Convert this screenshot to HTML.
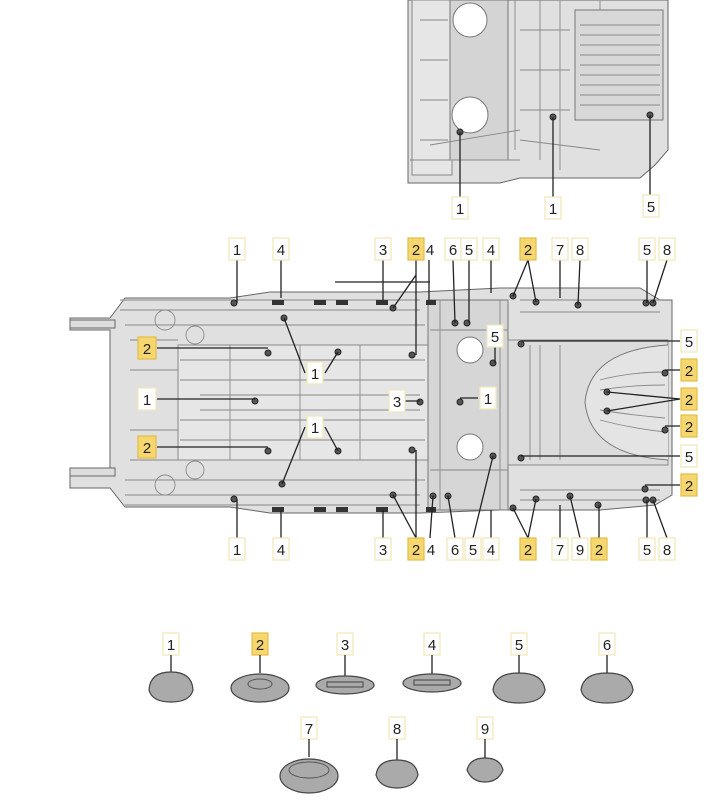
<!DOCTYPE html>
<html><head><meta charset="utf-8"><style>
html,body{margin:0;padding:0;background:#fff;}
svg{display:block;}
text{font-family:"Liberation Sans",sans-serif;font-size:15px;fill:#222;text-anchor:middle;}
.lb{fill:#fff;stroke:#f3e6b8;stroke-width:1.2;}
.ly{fill:#f6d66e;stroke:#e2bd45;stroke-width:1.2;}
.ln{stroke:#222;stroke-width:1.3;fill:none;}
.bd{fill:#e0e0e0;stroke:#666;stroke-width:1;}
.dt{stroke:#888;stroke-width:0.9;fill:none;}
.bolt{fill:#555;stroke:#222;stroke-width:1;}
.pt{fill:#aaa;stroke:#444;stroke-width:1.2;}
</style></head><body>
<svg width="720" height="801" viewBox="0 0 720 801" xmlns="http://www.w3.org/2000/svg">
<!-- top partial view -->
<path class="bd" d="M408 0 H668 V150 L655 165 L640 178 H520 L500 183 H408 Z"/>
<rect x="412" y="0" width="40" height="175" fill="#e6e6e6" stroke="#888"/>
<rect x="450" y="0" width="58" height="160" fill="#d4d4d4" stroke="#777"/>
<circle cx="470" cy="20" r="17" fill="#fff" stroke="#777"/>
<circle cx="470" cy="115" r="18" fill="#fff" stroke="#777"/>
<rect x="575" y="10" width="88" height="110" fill="#d8d8d8" stroke="#777"/>
<g class="dt">
<path d="M580 25 H660 M580 35 H660 M580 45 H660 M580 55 H660 M580 65 H660 M580 75 H660 M580 85 H660 M580 95 H660 M580 105 H660"/>
<path d="M515 0 V150 M540 0 V160 M560 0 V170 M520 140 L600 150 M410 160 H520 M430 145 L520 130 M420 20 H448 M420 60 H448 M420 100 H448 M420 140 H448 M600 0 V10 M520 30 H570 M520 70 H570 M520 110 H570"/>
</g>
<circle class="bolt" cx="460" cy="132" r="3"/><circle class="bolt" cx="553" cy="117" r="3"/><circle class="bolt" cx="650" cy="115" r="3"/>
<path class="ln" d="M460 132 V198 M553 117 V198 M650 115 V196"/>
<!-- main floor -->
<path class="bd" d="M70 318 H110 L125 298 H230 L270 292 H420 L500 288 H640 L660 300 H672 V495 L655 505 L600 510 H500 L420 513 H270 L230 507 H125 L110 488 H70 V476 H110 V330 H70 Z"/>
<rect x="70" y="320" width="45" height="8" fill="#ddd" stroke="#666"/>
<rect x="70" y="468" width="45" height="8" fill="#ddd" stroke="#666"/>
<rect x="178" y="345" width="250" height="115" fill="#e6e6e6" stroke="#888"/>
<rect x="428" y="300" width="80" height="210" fill="#d6d6d6" stroke="#777"/>
<circle cx="470" cy="350" r="13" fill="#fff" stroke="#777"/>
<circle cx="470" cy="447" r="13" fill="#fff" stroke="#777"/>
<rect x="508" y="340" width="160" height="125" fill="#dcdcdc" stroke="#888"/>
<path d="M668 345 Q590 350 585 402 Q590 455 668 460" fill="#e4e4e4" stroke="#777"/>
<g class="dt">
<path d="M120 300 H420 M120 310 H420 M125 325 H425 M125 480 H425 M125 495 H420 M125 505 H420 M130 340 H178 M130 460 H178 M130 370 H178 M130 430 H178"/>
<path d="M180 360 H425 M180 380 H425 M180 420 H425 M180 440 H425 M200 395 L420 395 M200 410 L420 410 M230 345 V460 M300 345 V460 M360 345 V460"/>
<path d="M520 300 H660 M520 312 H660 M520 490 H660 M520 500 H660 M540 345 V460 M560 345 V460 M530 345 V460 M440 300 V510 M500 300 V510 M430 330 H508 M430 470 H508"/>
<path d="M600 380 Q630 372 665 372 M600 390 Q630 385 665 385 M600 420 Q630 428 665 432 M600 410 Q630 415 665 418"/>
<circle cx="165" cy="320" r="10"/><circle cx="195" cy="335" r="9"/><circle cx="165" cy="485" r="10"/><circle cx="195" cy="470" r="9"/>
</g>
<g fill="#333"><rect x="272" y="300" width="12" height="5"/><rect x="314" y="300" width="12" height="5"/><rect x="336" y="300" width="12" height="5"/><rect x="376" y="300" width="12" height="5"/><rect x="426" y="300" width="10" height="5"/>
<rect x="272" y="507" width="12" height="5"/><rect x="314" y="507" width="12" height="5"/><rect x="336" y="507" width="12" height="5"/><rect x="376" y="507" width="12" height="5"/><rect x="426" y="507" width="10" height="5"/></g>
<g class="bolt">
<circle cx="234" cy="303" r="3"/><circle cx="268" cy="353" r="3"/><circle cx="284" cy="318" r="3"/><circle cx="338" cy="352" r="3"/><circle cx="412" cy="355" r="3"/><circle cx="393" cy="308" r="3"/>
<circle cx="255" cy="401" r="3"/><circle cx="420" cy="402" r="3"/><circle cx="460" cy="402" r="3"/><circle cx="493" cy="363" r="3"/><circle cx="521" cy="344" r="3"/><circle cx="521" cy="458" r="3"/>
<circle cx="268" cy="451" r="3"/><circle cx="282" cy="484" r="3"/><circle cx="338" cy="451" r="3"/><circle cx="412" cy="450" r="3"/><circle cx="393" cy="495" r="3"/><circle cx="234" cy="499" r="3"/>
<circle cx="665" cy="373" r="3"/><circle cx="607" cy="392" r="3"/><circle cx="607" cy="411" r="3"/><circle cx="665" cy="430" r="3"/><circle cx="645" cy="489" r="3"/>
<circle cx="455" cy="323" r="3"/><circle cx="467" cy="323" r="3"/><circle cx="513" cy="296" r="3"/><circle cx="536" cy="302" r="3"/><circle cx="578" cy="305" r="3"/><circle cx="646" cy="303" r="3"/><circle cx="653" cy="303" r="3"/>
<circle cx="433" cy="496" r="3"/><circle cx="448" cy="496" r="3"/><circle cx="493" cy="456" r="3"/><circle cx="513" cy="508" r="3"/><circle cx="536" cy="499" r="3"/><circle cx="570" cy="496" r="3"/><circle cx="598" cy="505" r="3"/><circle cx="646" cy="500" r="3"/><circle cx="653" cy="500" r="3"/>
</g>
<!-- leader lines -->
<path class="ln" d="M237 260 V303 M281 260 V298 M383 260 V300 M335 282 H430 M383 282 V290 M416 260 V355 M416 275 L393 308 M429 260 V300 M453 260 L455 323 M469 260 V323 M491 260 V293 M528 260 L513 296 M528 260 L536 302 M560 260 L560 298 M580 260 L578 305 M647 260 V303 M667 260 L653 303
M237 538 V499 M281 538 V510 M383 538 V510 M416 538 V450 M416 538 L393 495 M430 538 L433 496 M455 538 L448 496 M473 538 L493 456 M491 538 V510 M528 538 L513 508 M528 538 L536 499 M560 538 V505 M580 538 L570 496 M599 538 V505 M647 538 V500 M667 538 L653 500
M157 348 H268 M157 399 H255 M157 447 H268 M305 373 L284 318 M325 373 L338 352 M305 427 L282 484 M325 427 L338 451 M405 401 H420 M478 398 H460 M495 346 V363
M680 341 H521 M680 370 H665 M680 399 L607 392 M680 399 L607 411 M680 426 H665 M680 456 H521 M680 485 H645"/>
<g><rect class="lb" x="452" y="197" width="16" height="22"/><text x="460" y="214">1</text>
<rect class="lb" x="545" y="197" width="16" height="22"/><text x="553" y="214">1</text>
<rect class="lb" x="643" y="195" width="16" height="22"/><text x="651" y="212">5</text></g>
<g>
<rect class="lb" x="229" y="238" width="16" height="22"/><text x="237" y="255">1</text>
<rect class="lb" x="273" y="238" width="16" height="22"/><text x="281" y="255">4</text>
<rect class="lb" x="375" y="238" width="16" height="22"/><text x="383" y="255">3</text>
<rect class="ly" x="408" y="238" width="16" height="22"/><text x="416" y="255">2</text>
<text x="430" y="255">4</text>
<rect class="lb" x="445" y="238" width="16" height="22"/><text x="453" y="255">6</text>
<rect class="lb" x="461" y="238" width="16" height="22"/><text x="469" y="255">5</text>
<rect class="lb" x="483" y="238" width="16" height="22"/><text x="491" y="255">4</text>
<rect class="ly" x="520" y="238" width="16" height="22"/><text x="528" y="255">2</text>
<rect class="lb" x="552" y="238" width="16" height="22"/><text x="560" y="255">7</text>
<rect class="lb" x="572" y="238" width="16" height="22"/><text x="580" y="255">8</text>
<rect class="lb" x="639" y="238" width="16" height="22"/><text x="647" y="255">5</text>
<rect class="lb" x="659" y="238" width="16" height="22"/><text x="667" y="255">8</text>
</g>
<g>
<rect class="lb" x="229" y="538" width="16" height="22"/><text x="237" y="555">1</text>
<rect class="lb" x="273" y="538" width="16" height="22"/><text x="281" y="555">4</text>
<rect class="lb" x="375" y="538" width="16" height="22"/><text x="383" y="555">3</text>
<rect class="ly" x="408" y="538" width="16" height="22"/><text x="416" y="555">2</text>
<text x="431" y="555">4</text>
<rect class="lb" x="447" y="538" width="16" height="22"/><text x="455" y="555">6</text>
<rect class="lb" x="465" y="538" width="16" height="22"/><text x="473" y="555">5</text>
<rect class="lb" x="483" y="538" width="16" height="22"/><text x="491" y="555">4</text>
<rect class="ly" x="520" y="538" width="16" height="22"/><text x="528" y="555">2</text>
<rect class="lb" x="552" y="538" width="16" height="22"/><text x="560" y="555">7</text>
<rect class="lb" x="572" y="538" width="16" height="22"/><text x="580" y="555">9</text>
<rect class="ly" x="591" y="538" width="16" height="22"/><text x="599" y="555">2</text>
<rect class="lb" x="639" y="538" width="16" height="22"/><text x="647" y="555">5</text>
<rect class="lb" x="659" y="538" width="16" height="22"/><text x="667" y="555">8</text>
</g>
<g>
<rect class="ly" x="138" y="337" width="18" height="22"/><text x="147" y="354">2</text>
<rect class="lb" x="138" y="388" width="18" height="22"/><text x="147" y="405">1</text>
<rect class="ly" x="138" y="436" width="18" height="22"/><text x="147" y="453">2</text>
<rect class="lb" x="307" y="362" width="16" height="22"/><text x="315" y="379">1</text>
<rect class="lb" x="307" y="416" width="16" height="22"/><text x="315" y="433">1</text>
<rect class="lb" x="389" y="390" width="16" height="22"/><text x="397" y="407">3</text>
<rect class="lb" x="487" y="325" width="16" height="22"/><text x="495" y="342">5</text>
<rect class="lb" x="480" y="387" width="16" height="22"/><text x="488" y="404">1</text>
<rect class="lb" x="681" y="330" width="16" height="22"/><text x="689" y="347">5</text>
<rect class="ly" x="681" y="359" width="16" height="22"/><text x="689" y="376">2</text>
<rect class="ly" x="681" y="388" width="16" height="22"/><text x="689" y="405">2</text>
<rect class="ly" x="681" y="415" width="16" height="22"/><text x="689" y="432">2</text>
<rect class="lb" x="681" y="445" width="16" height="22"/><text x="689" y="462">5</text>
<rect class="ly" x="681" y="474" width="16" height="22"/><text x="689" y="491">2</text>
</g>
<g>
<rect class="lb" x="163" y="633" width="16" height="22"/><text x="171" y="650">1</text>
<rect class="ly" x="252" y="633" width="16" height="22"/><text x="260" y="650">2</text>
<rect class="lb" x="337" y="633" width="16" height="22"/><text x="345" y="650">3</text>
<rect class="lb" x="424" y="633" width="16" height="22"/><text x="432" y="650">4</text>
<rect class="lb" x="511" y="633" width="16" height="22"/><text x="519" y="650">5</text>
<rect class="lb" x="599" y="633" width="16" height="22"/><text x="607" y="650">6</text>
<rect class="lb" x="301" y="717" width="16" height="22"/><text x="309" y="734">7</text>
<rect class="lb" x="389" y="717" width="16" height="22"/><text x="397" y="734">8</text>
<rect class="lb" x="477" y="717" width="16" height="22"/><text x="485" y="734">9</text>
</g>
<path class="ln" d="M171 655 V673 M260 655 V673 M345 655 V677 M432 655 V677 M519 655 V673 M607 655 V673 M309 739 V757 M397 739 V760 M485 739 V760"/>
<g>
<path class="pt" d="M149 690 Q150 672 171 672 Q192 672 193 690 Q190 702 171 702 Q152 702 149 690 Z"/>
<ellipse class="pt" cx="260" cy="688" rx="29" ry="14"/><ellipse cx="260" cy="684" rx="12" ry="5" fill="none" stroke="#555"/>
<ellipse class="pt" cx="345" cy="685" rx="29" ry="9"/><rect x="327" y="682" width="36" height="5" fill="none" stroke="#444"/>
<ellipse class="pt" cx="432" cy="683" rx="29" ry="9"/><rect x="414" y="680" width="36" height="5" fill="none" stroke="#444"/>
<path class="pt" d="M493 690 Q495 673 519 673 Q543 673 545 690 Q542 703 519 703 Q496 703 493 690 Z"/>
<path class="pt" d="M581 690 Q583 673 607 673 Q631 673 633 690 Q630 703 607 703 Q584 703 581 690 Z"/>
<ellipse class="pt" cx="309" cy="776" rx="29" ry="17"/><ellipse cx="309" cy="770" rx="20" ry="8" fill="none" stroke="#555"/>
<path class="pt" d="M376 775 Q378 760 397 760 Q416 760 418 775 Q414 788 397 788 Q380 788 376 775 Z"/>
<path class="pt" d="M467 770 Q470 758 485 758 Q500 758 503 770 Q498 782 485 782 Q472 782 467 770 Z"/>
</g>
</svg>
</body></html>
